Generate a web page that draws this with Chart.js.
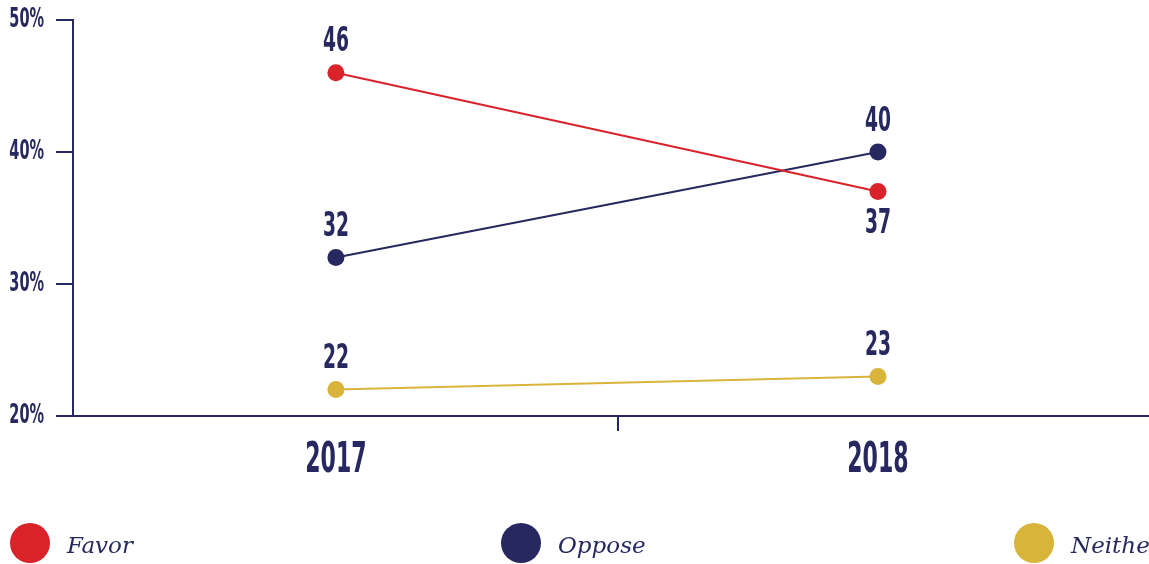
<!DOCTYPE html>
<html>
<head>
<meta charset="utf-8">
<script src="https://cdn.jsdelivr.net/npm/chart.js@4/dist/chart.umd.min.js"></script>
<style>
  html, body { margin: 0; padding: 0; background: #fff; overflow: hidden; }
  #wrap { position: relative; width: 1149px; height: 564px; overflow: hidden; }
  #legend { position: absolute; left: 0; top: 523px; width: 1149px; height: 41px; }
  .item { position: absolute; top: 0; white-space: nowrap; }
  .dot { position: absolute; left: 0; top: 0; width: 40px; height: 40px; border-radius: 50%; }
  .lbl { position: absolute; left: 57px; top: 9px; font-family: "DejaVu Serif", serif; font-style: italic; font-size: 23px; color: #27285f; }
</style>
</head>
<body>
<div id="wrap">
  <canvas id="line-chart"></canvas>
  <div id="legend"></div>
</div>
<script>
// Line chart: Favor / Oppose / Neither, 2017 vs 2018

var years = [2017, 2018];
var favor = [46, 37];
var oppose = [32, 40];
var neither = [22, 23];
var yTicks = [20, 30, 40, 50];

var seriesNames = ["Favor", "Oppose", "Neithe"];
var seriesColors = ["#d9222a", "#27285f", "#d9b43a"];
// where the value label sits, per point
var labelSide = [["top", "bottom"], ["top", "top"], ["top", "top"]];

var navy = "#27285f";
var numFont = '"DejaVu Sans Condensed", "DejaVu Sans", sans-serif';

var allData = [favor, oppose, neither];

// narrow text: condensed font squeezed a bit more
function narrowText(ctx, text, x, y, size, sx, align) {
    ctx.save();
    ctx.font = "bold " + size + "px " + numFont;
    ctx.fillStyle = navy;
    ctx.textAlign = align;
    ctx.textBaseline = "middle";
    ctx.translate(x, y);
    ctx.scale(sx, 1);
    ctx.fillText(text, 0, 0);
    ctx.restore();
}

var textLayer = {
    id: "textLayer",
    afterDraw: function (chart) {
        var ctx = chart.ctx;
        var xs = chart.scales.x, ys = chart.scales.y;
        // y tick labels
        yTicks.forEach(function (v) {
            narrowText(ctx, v + "%", ys.right - 29, ys.getPixelForValue(v), 26, 0.62, "right");
        });
        // x labels
        years.forEach(function (yr) {
            narrowText(ctx, String(yr), xs.getPixelForValue(yr), xs.top + 45, 43, 0.57, "center");
        });
        // value labels
        chart.data.datasets.forEach(function (ds, i) {
            chart.getDatasetMeta(i).data.forEach(function (pt, j) {
                var dy = labelSide[i][j] === "bottom" ? 33 : -30;
                narrowText(ctx, String(allData[i][j]), pt.x, pt.y + dy, 33, 0.63, "center");
            });
        });
    }
};

new Chart(document.getElementById("line-chart"), {
    type: 'line',
    data: {
        datasets: allData.map(function (d, i) {
            return {
                label: seriesNames[i],
                data: d.map(function (v, j) { return { x: years[j], y: v }; }),
                borderColor: seriesColors[i],
                backgroundColor: seriesColors[i],
                borderWidth: 2,
                pointRadius: 8.5,
                pointHoverRadius: 8.5,
                pointBorderWidth: 0,
                tension: 0
            };
        })
    },
    options: {
        responsive: true,
        maintainAspectRatio: false,
        animation: false,
        layout: { autoPadding: false, padding: { top: 20, right: 0, bottom: 78, left: 0 } },
        plugins: {
            legend: { display: false },
            tooltip: { enabled: false }
        },
        scales: {
            x: {
                type: 'linear',
                min: 2016.515,
                max: 2018.5,
                border: { color: navy, width: 2 },
                grid: {
                    drawOnChartArea: false,
                    tickLength: 15,
                    lineWidth: 2,
                    color: navy
                },
                afterBuildTicks: function (s) {
                    // single divider tick between the two years
                    s.ticks = [{ value: 2017.52 }];
                },
                ticks: { display: false },
                afterFit: function (s) { s.height = 70; }
            },
            y: {
                min: 20,
                max: 50,
                border: { color: navy, width: 2 },
                grid: {
                    drawOnChartArea: false,
                    tickLength: 17,
                    lineWidth: 2,
                    color: navy
                },
                afterBuildTicks: function (s) {
                    s.ticks = yTicks.map(function (v) { return { value: v }; });
                },
                ticks: { display: false },
                afterFit: function (s) { s.width = 73; }
            }
        }
    },
    plugins: [textLayer]
});

// legend below the chart
var lefts = [10, 501, 1014];
var legend = document.getElementById("legend");
seriesNames.forEach(function (name, i) {
    var item = document.createElement("div");
    item.className = "item";
    item.style.left = lefts[i] + "px";
    item.innerHTML = '<span class="dot" style="background:' + seriesColors[i] + '"></span><span class="lbl">' + name + '</span>';
    legend.appendChild(item);
});
</script>
</body>
</html>
